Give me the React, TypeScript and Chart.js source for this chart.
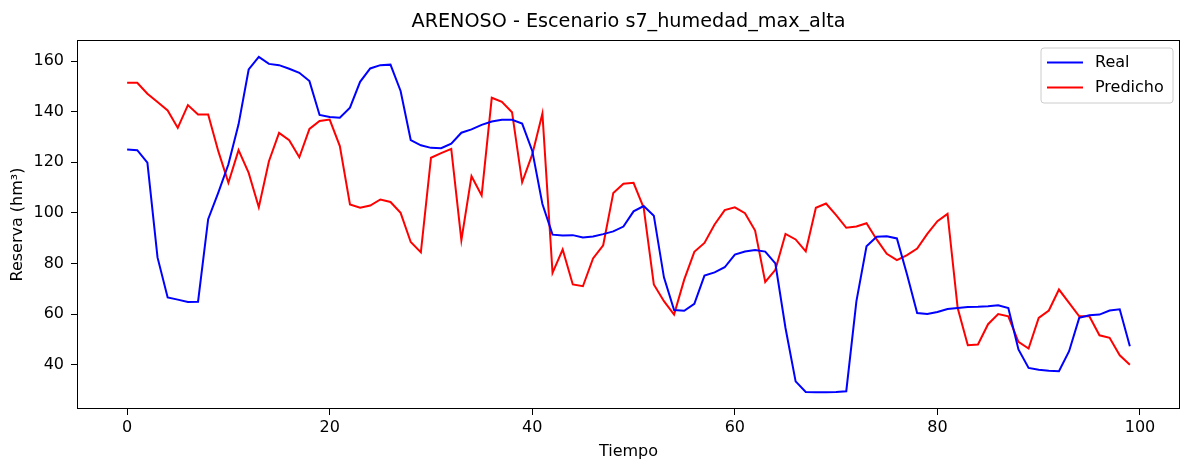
import { useEffect, useRef } from 'react';
import { Chart, registerables } from 'chart.js';

Chart.register(...registerables);

const titleText = 'ARENOSO - Escenario s7_humedad_max_alta';
const xLabel = 'Tiempo';
const yLabel = 'Reserva (hm³)';
const seriesNames = ['Real', 'Predicho'];
const seriesColors = ['#0000ff', '#ff0000'];

const real = [
  125.1, 124.8, 119.9, 82.4, 66.6, 65.7, 64.8, 64.9, 97.5, 108,
  119.2, 135, 156.7, 161.7, 158.9, 158.4, 157, 155.4, 152.1, 138.7,
  137.9, 137.6, 141.6, 151.8, 157.1, 158.4, 158.6, 148.2, 128.8, 126.7,
  125.7, 125.6, 127.4, 131.7, 133, 134.8, 136.1, 136.8, 136.8, 135.3,
  124.5, 103.5, 91.4, 91.1, 91.2, 90.3, 90.7, 91.6, 92.7, 94.6,
  100.6, 102.7, 98.9, 74.5, 61.6, 61.3, 64, 75.2, 76.5, 78.5,
  83.5, 84.7, 85.3, 84.7, 80, 54.5, 33.4, 29.2, 29.1, 29.1,
  29.2, 29.5, 65, 86.8, 90.6, 90.8, 89.9, 75.6, 60.4, 60.0,
  60.8, 62.0, 62.4, 62.8, 62.9, 63.1, 63.5, 62.4, 46, 38.7,
  38.0, 37.6, 37.4, 45.3, 58.5, 59.5, 59.8, 61.4, 61.9, 47.3,
];

const predicho = [
  151.4, 151.4, 147.1, 143.8, 140.5, 133.6, 142.6, 138.9, 138.9, 124.4,
  111.9, 124.8, 115.8, 102.2, 120.4, 131.6, 128.7, 122, 133.2, 136.3,
  136.9, 126.4, 103.3, 102, 102.9, 105.3, 104.3, 100, 88.5, 84.4,
  121.8, 123.6, 125.3, 89.2, 114.5, 106.9, 145.5, 143.9, 139.8, 112.1,
  123.1, 139.3, 76.3, 85.5, 71.7, 71, 82, 87.2, 107.9, 111.5,
  111.9, 102, 71.7, 65.1, 59.8, 73.6, 84.6, 88.1, 95.4, 101.1,
  102.2, 99.9, 93, 72.7, 77.5, 91.7, 89.5, 84.8, 102, 103.7,
  99.1, 94.1, 94.6, 95.9, 89.5, 83.8, 81.3, 83.3, 85.9, 91.7,
  96.7, 99.6, 62.4, 47.7, 48, 56, 60, 59.1, 49, 46.4,
  58.5, 61.4, 69.7, 64.4, 59.1, 59.1, 51.6, 50.6, 43.7, 40,
];

const tiempo = real.map((_, i) => i);
const xTicks = [0, 20, 40, 60, 80, 100];
const yTicks = [40, 60, 80, 100, 120, 140, 160];

const FONT = "'DejaVu Sans', sans-serif";

export default function App() {
  const ref = useRef<HTMLCanvasElement | null>(null);

  useEffect(() => {
    document.body.style.margin = '0';
    const canvas = ref.current;
    if (!canvas) return;

    const framePlugin = {
      id: 'mplFrame',
      afterDraw(chart: any) {
        const { ctx, chartArea: a } = chart;
        ctx.save();
        ctx.strokeStyle = '#000';
        ctx.lineWidth = 1;
        const l = Math.round(a.left) + 0.5;
        const t = Math.round(a.top) + 0.5;
        const r = Math.round(a.right) - 0.5;
        const b = Math.round(a.bottom) - 0.5;
        ctx.strokeRect(l, t, r - l, b - t);

        // legend
        const bw = 132;
        const bh = 55;
        const bx = Math.round(a.right) - 7 - bw;
        const by = Math.round(a.top) + 8;
        const rad = 3;
        ctx.beginPath();
        ctx.moveTo(bx + rad, by);
        ctx.lineTo(bx + bw - rad, by);
        ctx.quadraticCurveTo(bx + bw, by, bx + bw, by + rad);
        ctx.lineTo(bx + bw, by + bh - rad);
        ctx.quadraticCurveTo(bx + bw, by + bh, bx + bw - rad, by + bh);
        ctx.lineTo(bx + rad, by + bh);
        ctx.quadraticCurveTo(bx, by + bh, bx, by + bh - rad);
        ctx.lineTo(bx, by + rad);
        ctx.quadraticCurveTo(bx, by, bx + rad, by);
        ctx.closePath();
        ctx.fillStyle = 'rgba(255,255,255,0.8)';
        ctx.fill();
        ctx.strokeStyle = '#cccccc';
        ctx.lineWidth = 1;
        ctx.stroke();

        ctx.font = `16px ${FONT}`;
        ctx.textBaseline = 'middle';
        ctx.textAlign = 'left';
        seriesNames.forEach((name, i) => {
          const y = by + 14.5 + i * 25;
          ctx.strokeStyle = seriesColors[i];
          ctx.lineWidth = 2;
          ctx.beginPath();
          ctx.moveTo(bx + 6, y);
          ctx.lineTo(bx + 42, y);
          ctx.stroke();
          ctx.fillStyle = '#000';
          ctx.fillText(name, bx + 54, y);
        });
        ctx.restore();
      },
    };

    const tickFont = { family: FONT, size: 16 };

    const chart = new Chart(canvas, {
      type: 'line',
      data: {
        datasets: [
          {
            label: seriesNames[0],
            data: tiempo.map((t, i) => ({ x: t, y: real[i] })),
            borderColor: seriesColors[0],
            backgroundColor: seriesColors[0],
            borderWidth: 2,
            pointRadius: 0,
            tension: 0,
            fill: false,
          },
          {
            label: seriesNames[1],
            data: tiempo.map((t, i) => ({ x: t, y: predicho[i] })),
            borderColor: seriesColors[1],
            backgroundColor: seriesColors[1],
            borderWidth: 2,
            pointRadius: 0,
            tension: 0,
            fill: false,
          },
        ],
      },
      options: {
        responsive: false,
        animation: false,
        devicePixelRatio: 1,
        layout: { padding: { left: 0, right: 2, top: 0, bottom: 0 } },
        plugins: {
          legend: { display: false },
          tooltip: { enabled: false },
          title: {
            display: true,
            fullSize: false,
            text: titleText,
            color: '#000',
            font: { family: FONT, size: 19.2, weight: 'normal', lineHeight: 1.2 },
            padding: { top: 10, bottom: 7 },
          },
        },
        scales: {
          x: {
            type: 'linear',
            min: -4.95,
            max: 103.95,
            afterBuildTicks: (scale: any) => {
              scale.ticks = xTicks.map((v) => ({ value: v }));
            },
            afterFit: (scale: any) => {
              scale.height = 55;
            },
            ticks: {
              color: '#000',
              font: tickFont,
              padding: 3,
              maxRotation: 0,
              autoSkip: false,
            },
            grid: {
              display: true,
              drawOnChartArea: false,
              drawTicks: true,
              tickLength: 6,
              tickColor: '#000',
              tickWidth: 1,
            },
            border: { display: false },
            title: {
              display: true,
              text: xLabel,
              color: '#000',
              font: { family: FONT, size: 16, lineHeight: 1.2 },
              padding: { top: 0, bottom: 3 },
            },
          },
          y: {
            type: 'linear',
            min: 22.47,
            max: 168.33,
            afterBuildTicks: (scale: any) => {
              scale.ticks = yTicks.map((v) => ({ value: v }));
            },
            afterFit: (scale: any) => {
              scale.width = 77;
            },
            ticks: {
              color: '#000',
              font: tickFont,
              padding: 7,
              autoSkip: false,
            },
            grid: {
              display: true,
              drawOnChartArea: false,
              drawTicks: true,
              tickLength: 6,
              tickColor: '#000',
              tickWidth: 1,
            },
            border: { display: false },
            title: {
              display: true,
              text: yLabel,
              color: '#000',
              font: { family: FONT, size: 16, lineHeight: 1.2 },
              padding: { top: 8, bottom: 0 },
            },
          },
        },
      },
      plugins: [framePlugin],
    } as any);

    return () => {
      chart.destroy();
    };
  }, []);

  return (
    <div style={{ width: 1182, height: 464 }}>
      <canvas ref={ref} width={1182} height={464} style={{ display: 'block' }} />
    </div>
  );
}
